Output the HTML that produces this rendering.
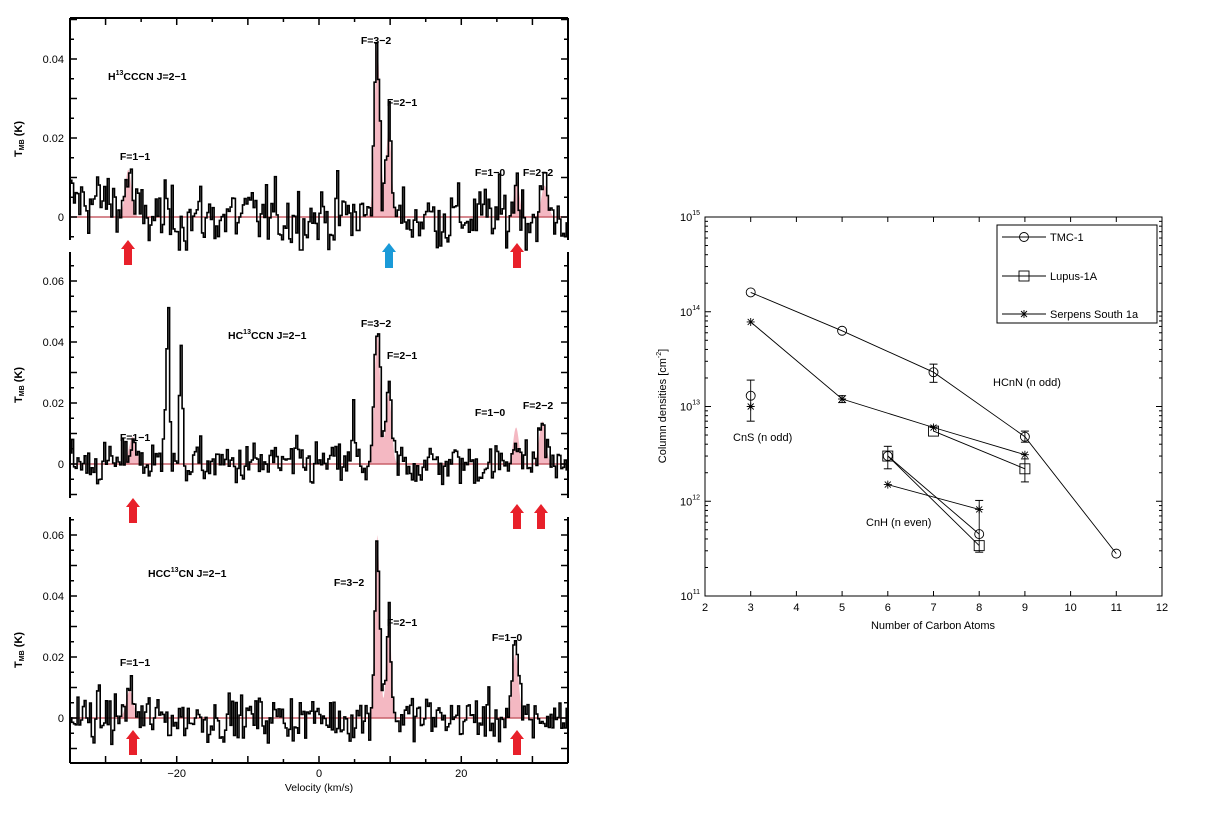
<!DOCTYPE html>
<html><head><meta charset="utf-8">
<style>
html,body{margin:0;padding:0;background:#fff;}
svg{display:block;font-family:"Liberation Sans",sans-serif;}
</style></head>
<body>
<svg id="s" width="1227" height="840" viewBox="0 0 1227 840" xmlns="http://www.w3.org/2000/svg">
<rect width="1227" height="840" fill="#fff"/>
<g id="g"></g>
</svg>
<script>
var NS="http://www.w3.org/2000/svg";
var G=document.getElementById('g');
function el(t,a,txt){var e=document.createElementNS(NS,t);for(var k in a)e.setAttribute(k,a[k]);if(txt!==undefined)e.textContent=txt;G.appendChild(e);return e;}
var seed=12345;function rnd(){seed=(seed*1103515245+12345)%2147483648;return seed/2147483648;}
function gauss(){var s=0;for(var i=0;i<6;i++)s+=rnd();return (s-3)/1.0;}
var X0=70,X1=568;function vx(v){return X0+(v+35)/70*(X1-X0);}
var panels=[
 {top:18,bot:240,zero:217,sc:3950,ticks:[[0,'0'],[0.02,'0.02'],[0.04,'0.04']],sigma:0.0045,
  lines:[[-26.8,0.012,0.45],[8.2,0.043,0.4],[9.8,0.022,0.4],[27.8,0.009,0.4],[31.7,0.008,0.45]],
  extra:[],title:['H','13','CCCN J=2\u22121',108,80],
  labels:[['F=3\u22122',376,44],['F=2\u22121',402,106],['F=1\u22121',135,160],['F=1\u22120',490,176],['F=2\u22122',538,176]],
  arrows:[[128,240,'r'],[389,243,'b'],[517,243,'r']]},
 {top:252,bot:498,zero:464,sc:3050,ticks:[[0,'0'],[0.02,'0.02'],[0.04,'0.04'],[0.06,'0.06']],sigma:0.004,
  lines:[[-26.2,0.009,0.5],[8.2,0.043,0.4],[9.8,0.023,0.4],[27.7,0.012,0.4],[31.4,0.014,0.45]],
  extra:[[-21.2,0.06,0.2],[-19.4,0.033,0.2],[-21.7,0.02,0.15],[4.9,0.02,0.15]],title:['HC','13','CCN J=2\u22121',228,339],
  labels:[['F=3\u22122',376,327],['F=2\u22121',402,359],['F=1\u22121',135,441],['F=1\u22120',490,416],['F=2\u22122',538,409]],
  arrows:[[133,498,'r'],[517,504,'r'],[541,504,'r']]},
 {top:517,bot:763,zero:718,sc:3050,ticks:[[0,'0'],[0.02,'0.02'],[0.04,'0.04'],[0.06,'0.06']],sigma:0.0042,
  lines:[[-26.6,0.009,0.5],[8.2,0.060,0.35],[9.8,0.033,0.35],[27.6,0.021,0.45]],
  extra:[],title:['HCC','13','CN J=2\u22121',148,577],
  labels:[['F=3\u22122',349,586],['F=2\u22121',402,626],['F=1\u22121',135,666],['F=1\u22120',507,641]],
  arrows:[[133,730,'r'],[517,730,'r']]}
];
panels.forEach(function(p,pi){
 var mf='M'+vx(-35)+','+p.zero;
 for(var v=-35;v<=35;v+=0.1){var m=0;p.lines.forEach(function(l){m+=l[1]*Math.exp(-Math.pow((v-l[0])/l[2],2)/2);});mf+=' L'+vx(v).toFixed(1)+','+(p.zero-m*p.sc).toFixed(1);}
 mf+=' L'+vx(35)+','+p.zero+' Z';
 el('path',{d:mf,fill:'#f4b8c2',stroke:'none'});
 el('line',{x1:X0,x2:X1,y1:p.zero,y2:p.zero,stroke:'#c8606a','stroke-width':1.5});
 var dv=0.25,d='',prev=0;
 for(var v=-35;v<35;v+=dv){var c=v+dv/2;var s=0;p.lines.concat(p.extra).forEach(function(l){s+=l[1]*Math.exp(-Math.pow((c-l[0])/l[2],2)/2);});
  var n=1.25*gauss()*p.sigma+0.15*prev;prev=n;
  if(pi==0&&v<-28)n+=0.004;
  var y=p.zero-(s+n)*p.sc;y=Math.max(p.top+2,Math.min(p.bot+10,y));
  var x1=vx(v),x2=vx(v+dv);
  d+=(d?' L':'M')+x1.toFixed(1)+','+y.toFixed(1)+' L'+x2.toFixed(1)+','+y.toFixed(1);}
 el('path',{d:d,fill:'none',stroke:'#000','stroke-width':1.6});
 el('line',{x1:X0,x2:X0,y1:p.top,y2:p.bot,stroke:'#000','stroke-width':2});
 el('line',{x1:X1,x2:X1,y1:p.top,y2:p.bot,stroke:'#000','stroke-width':2});
 if(pi==2){el('line',{x1:X0,x2:X1,y1:p.bot,y2:p.bot,stroke:'#000','stroke-width':2});
   for(var v=-30;v<=30;v+=5){el('line',{x1:vx(v),x2:vx(v),y1:p.bot,y2:p.bot-(v%10==0?7:4),stroke:'#000','stroke-width':1.5});}
   [[-20,'\u221220'],[0,'0'],[20,'20']].forEach(function(t){el('text',{x:vx(t[0]),y:p.bot+14,'font-size':11,'text-anchor':'middle'},t[1]);});
   el('text',{x:319,y:p.bot+28,'font-size':10.5,'text-anchor':'middle'},'Velocity (km/s)');}
 if(pi==0){for(var v=-30;v<=30;v+=5){el('line',{x1:vx(v),x2:vx(v),y1:p.top,y2:p.top+(v%10==0?7:4),stroke:'#000','stroke-width':1.5});}
   el('line',{x1:X0,x2:X1,y1:p.top,y2:p.top,stroke:'#000','stroke-width':2});}
 for(var t=-0.01;t<=0.065;t+=0.005){var y=p.zero-t*p.sc;if(y<p.top||y>p.bot)continue;var L=(Math.round(t*1000)%10==0)?7:4;
  el('line',{x1:X0,x2:X0+L,y1:y,y2:y,stroke:'#000','stroke-width':1.5});el('line',{x1:X1,x2:X1-L,y1:y,y2:y,stroke:'#000','stroke-width':1.5});}
 p.ticks.forEach(function(t){el('text',{x:X0-6,y:p.zero-t[0]*p.sc+4,'font-size':11,'text-anchor':'end'},t[1]);});
 var my=(p.top+p.bot)/2+10;
 var yl=el('text',{x:0,y:0,'font-size':11,'font-weight':'bold','text-anchor':'middle',transform:'translate(22,'+my+') rotate(-90)'},'');
 yl.innerHTML='T<tspan font-size="7" dy="2">MB</tspan><tspan dy="-2">  (K)</tspan>';
 var tt=el('text',{x:p.title[3],y:p.title[4],'font-size':10.5,'font-weight':'bold'},'');
 tt.innerHTML=p.title[0]+'<tspan font-size="7" dy="-5">'+p.title[1]+'</tspan><tspan dy="5">'+p.title[2]+'</tspan>';
 p.labels.forEach(function(l){el('text',{x:l[1],y:l[2],'font-size':10.5,'font-weight':'bold','text-anchor':'middle'},l[0]);});
 p.arrows.forEach(function(a){var c=a[2]=='r'?'#e8202a':'#1a9ad8';var x=a[0],y=a[1];
  el('path',{d:'M'+x+','+y+' L'+(x+7)+','+(y+9)+' L'+(x+4)+','+(y+9)+' L'+(x+4)+','+(y+25)+' L'+(x-4)+','+(y+25)+' L'+(x-4)+','+(y+9)+' L'+(x-7)+','+(y+9)+' Z',fill:c});});
});
var L=705,R=1162,T=217,B=596;
function px(n){return L+(n-2)*(R-L)/10;}
function py(v){return T+(15-Math.log10(v))*(B-T)/4;}
el('rect',{x:L,y:T,width:R-L,height:B-T,fill:'none',stroke:'#000','stroke-width':1});
for(var n=3;n<=11;n++){el('line',{x1:px(n),x2:px(n),y1:B,y2:B-5,stroke:'#000'});el('line',{x1:px(n),x2:px(n),y1:T,y2:T+5,stroke:'#000'});}
for(var n=2;n<=12;n++)el('text',{x:px(n),y:B+15,'font-size':11,'text-anchor':'middle'},''+n);
for(var e=11;e<15;e++){for(var m=1;m<10;m++){var y=py(m*Math.pow(10,e));var l=m==1?6:3;
 el('line',{x1:L,x2:L+l,y1:y,y2:y,stroke:'#000'});el('line',{x1:R,x2:R-l,y1:y,y2:y,stroke:'#000'});}}
for(var e=11;e<=15;e++){var t=el('text',{x:L-5,y:py(Math.pow(10,e))+4,'font-size':11,'text-anchor':'end'},'');t.innerHTML='10<tspan font-size="7" dy="-6">'+e+'</tspan>';}
var yl=el('text',{x:0,y:0,'font-size':11,'text-anchor':'middle',transform:'translate(666,406) rotate(-90)'},'');
yl.innerHTML='Column densities [cm<tspan font-size="7" dy="-5">-2</tspan><tspan dy="5">]</tspan>';
el('text',{x:933,y:629,'font-size':11,'text-anchor':'middle'},'Number of Carbon Atoms');
function line(pts){var d='';pts.forEach(function(p,i){d+=(i?' L':'M')+px(p[0]).toFixed(1)+','+py(p[1]).toFixed(1);});el('path',{d:d,fill:'none',stroke:'#000','stroke-width':0.9});}
function err(n,lo,hi){var x=px(n);el('line',{x1:x,x2:x,y1:py(lo),y2:py(hi),stroke:'#000','stroke-width':0.9});el('line',{x1:x-4,x2:x+4,y1:py(lo),y2:py(lo),stroke:'#000'});el('line',{x1:x-4,x2:x+4,y1:py(hi),y2:py(hi),stroke:'#000'});}
function circ(x,y){el('circle',{cx:x,cy:y,r:4.5,fill:'none',stroke:'#000','stroke-width':0.9});}
function sq(x,y){el('rect',{x:x-5,y:y-5,width:10,height:10,fill:'none',stroke:'#000','stroke-width':0.9});}
function star(x,y){var s=4;el('path',{d:'M'+(x-s)+','+y+' H'+(x+s)+' M'+x+','+(y-s)+' V'+(y+s)+' M'+(x-3)+','+(y-3)+' L'+(x+3)+','+(y+3)+' M'+(x-3)+','+(y+3)+' L'+(x+3)+','+(y-3),stroke:'#000','stroke-width':0.9});}
function mk(f,pts){pts.forEach(function(p){f(px(p[0]),py(p[1]));});}
var tmc=[[3,1.6e14],[5,6.3e13],[7,2.3e13],[9,4.8e12],[11,2.8e11]];
var ser=[[3,7.8e13],[5,1.2e13],[7,6e12],[9,3.1e12]];
var lup=[[7,5.5e12],[9,2.2e12]];
line(tmc);line(ser);line(lup);
line([[6,3e12],[8,4.5e11]]);line([[6,3e12],[8,3.4e11]]);line([[6,1.5e12],[8,8.2e11]]);
err(7,1.8e13,2.8e13);err(9,1.6e12,2.8e12);err(3,7e12,1.9e13);err(6,2.2e12,3.8e12);err(8,2.9e11,1.02e12);err(9,4.2e12,5.5e12);err(5,1.1e13,1.3e13);
mk(circ,tmc.concat([[3,1.3e13],[6,3e12],[8,4.5e11]]));
mk(sq,lup.concat([[6,3e12],[8,3.4e11]]));
mk(star,ser.concat([[3,1e13],[6,1.5e12],[8,8.2e11]]));
el('text',{x:993,y:386,'font-size':11},'HCnN (n odd)');
el('text',{x:733,y:441,'font-size':11},'CnS (n odd)');
el('text',{x:866,y:526,'font-size':11},'CnH (n even)');
el('rect',{x:997,y:225,width:160,height:98,fill:'#fff',stroke:'#000','stroke-width':1});
[[237,circ,'TMC-1'],[276,sq,'Lupus-1A'],[314,star,'Serpens South 1a']].forEach(function(e){
 el('line',{x1:1002,x2:1046,y1:e[0],y2:e[0],stroke:'#000','stroke-width':0.9});e[1](1024,e[0]);
 el('text',{x:1050,y:e[0]+4,'font-size':11},e[2]);});
</script>
</body></html>
